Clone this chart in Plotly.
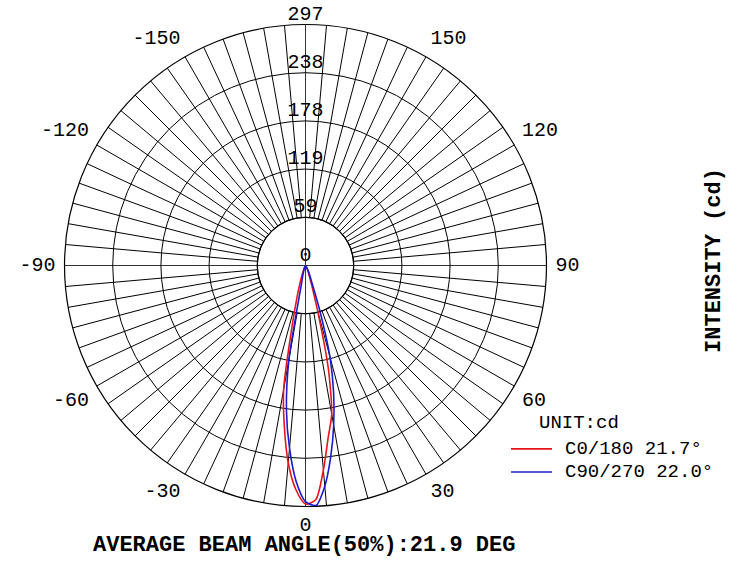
import plotly.graph_objects as go

# gamma angles (deg), 0 = straight down, positive to the right
gamma = [-90, -60, -45, -35, -30, -25, -20, -17.5, -15, -12.5, -10, -7.5, -5, -2.5,
         0, 2.5, 5, 7.5, 10, 12.5, 15, 17.5, 20, 25, 30, 35, 45, 60, 90]

# intensity in cd
c0_180 = [0, 0, 0, 1, 2, 5, 13, 22, 40, 76, 155, 200, 244, 276,
          294, 289, 253, 214, 186, 130, 57, 25, 14, 6, 2, 1, 0, 0, 0]
c90_270 = [0, 0, 0, 0, 1, 2, 5, 8, 13, 22, 118, 180, 226, 266,
           291, 296, 273, 238, 200, 160, 116, 60, 25, 10, 4, 1, 0, 0, 0]

r_max = 297
r_ticks = [59.4, 118.8, 178.2, 237.6]
r_labels = ["0", "59", "119", "178", "238", "297"]

# angle labels round the rim (180 is left out, the 297 label sits there)
angle_vals = [0, 30, 60, 90, 120, 150, 210, 240, 270, 300, 330]
angle_labels = ["0", "30", "60", "90", "120", "150", "-150", "-120", "-90", "-60", "-30"]
angle_pos = ["bottom center", "bottom right", "bottom right", "middle right",
             "top right", "top right", "top left", "top left", "middle left",
             "bottom left", "bottom left"]

names = ["C0/180 21.7°", "C90/270 22.0°"]
colors = ["#e8141b", "#1a1ad0"]

FONT = "Liberation Mono"

fig = go.Figure()

# empty trace so the spoke subplot gets drawn
fig.add_trace(go.Scatterpolar(r=[], theta=[], subplot="polar", showlegend=False))

for vals, name, col in zip([c0_180, c90_270], names, colors):
    fig.add_trace(go.Scatterpolar(
        r=vals, theta=gamma, mode="lines", name=name,
        line=dict(color=col, width=1.6, shape="spline", smoothing=0.7),
        subplot="polar2", showlegend=False
    ))

# intensity labels up the 180 line
fig.add_trace(go.Scatterpolar(
    r=[0] + r_ticks + [r_max], theta=[180] * 6, mode="text",
    text=r_labels, textposition="top center",
    textfont=dict(family=FONT, size=20, color="black"),
    showlegend=False, cliponaxis=False, hoverinfo="skip",
    subplot="polar2"
))

# angle labels on a slightly bigger, invisible polar just outside the rim
fig.add_trace(go.Scatterpolar(
    r=[1] * len(angle_vals), theta=angle_vals, mode="text",
    text=angle_labels, textposition=angle_pos,
    textfont=dict(family=FONT, size=20, color="black"),
    showlegend=False, cliponaxis=False, hoverinfo="skip",
    subplot="polar3"
))

dom_x = [0.0873, 0.7395]
dom_y = [0.1051, 0.9567]
lab_x = [0.0751, 0.7517]
lab_y = [0.0892, 0.9726]

# hand-made legend
leg_x0, leg_x1, leg_tx = 0.6915, 0.747, 0.762
leg_y = [0.207, 0.166]
shapes = []
annotations = []
for y, name, col in zip(leg_y, names, colors):
    shapes.append(dict(type="line", xref="paper", yref="paper",
                       x0=leg_x0, x1=leg_x1, y0=y, y1=y,
                       line=dict(color=col, width=1.6)))
    annotations.append(dict(text=name, x=leg_tx, y=y, xref="paper", yref="paper",
                            xanchor="left", yanchor="middle", showarrow=False,
                            font=dict(family=FONT, size=19, color="black")))

annotations += [
    dict(text="UNIT:cd", x=0.7267, y=0.2527, xref="paper", yref="paper",
         xanchor="left", yanchor="middle", showarrow=False,
         font=dict(family=FONT, size=19, color="black")),
    dict(text="<b>AVERAGE BEAM ANGLE(50%):21.9 DEG</b>", x=0.411, y=0.036,
         xref="paper", yref="paper", xanchor="center", yanchor="middle",
         showarrow=False, font=dict(family=FONT, size=22, color="black")),
    dict(text="<b>INTENSITY (cd)</b>", x=0.967, y=0.54, xref="paper", yref="paper",
         xanchor="center", yanchor="middle", textangle=-90, showarrow=False,
         font=dict(family=FONT, size=22, color="black")),
]

fig.update_layout(
    width=739, height=566,
    margin=dict(l=0, r=0, t=0, b=0),
    paper_bgcolor="white",
    font=dict(family=FONT, color="black"),
    showlegend=False,
    # spokes every 5 deg, starting at the first ring
    polar=dict(
        domain=dict(x=dom_x, y=dom_y),
        hole=0.2,
        bgcolor="white",
        angularaxis=dict(
            rotation=270, direction="counterclockwise",
            tickmode="linear", tick0=0, dtick=5,
            showticklabels=False, ticks="",
            showgrid=True, gridcolor="black", gridwidth=1,
            showline=True, linecolor="black", linewidth=1.2,
        ),
        radialaxis=dict(visible=False, range=[59.4, r_max]),
    ),
    # rings, cross lines and curves
    polar2=dict(
        domain=dict(x=dom_x, y=dom_y),
        bgcolor="rgba(0,0,0,0)",
        angularaxis=dict(
            rotation=270, direction="counterclockwise",
            tickmode="array", tickvals=[0, 90, 180, 270],
            showticklabels=False, ticks="",
            showgrid=True, gridcolor="#333", gridwidth=1,
            showline=False,
        ),
        radialaxis=dict(
            range=[0, r_max], tickmode="array", tickvals=r_ticks,
            showgrid=True, gridcolor="black", gridwidth=1,
            showticklabels=False, ticks="", showline=False,
        ),
    ),
    # holder for the angle labels
    polar3=dict(
        domain=dict(x=lab_x, y=lab_y),
        bgcolor="rgba(0,0,0,0)",
        angularaxis=dict(visible=False, rotation=270, direction="counterclockwise"),
        radialaxis=dict(visible=False, range=[0, 1]),
    ),
    shapes=shapes,
    annotations=annotations,
)

fig.write_html("out.html", config={"displayModeBar": False},
               post_script="document.body.style.margin='0';")
